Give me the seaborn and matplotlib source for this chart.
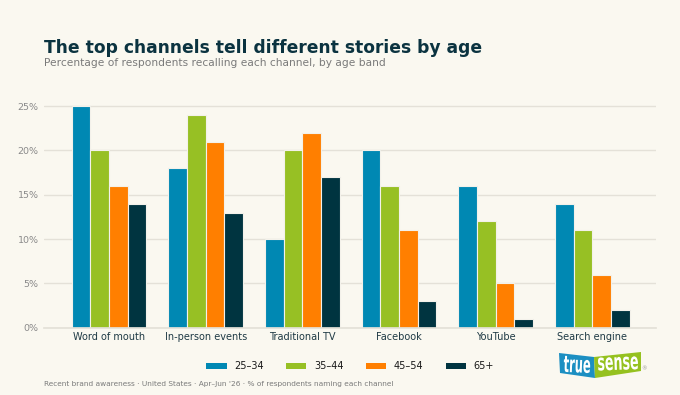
import matplotlib
matplotlib.use("Agg")
import matplotlib.pyplot as plt
import seaborn as sns
import pandas as pd
from matplotlib.patches import Polygon, Patch, PathPatch
from matplotlib.textpath import TextPath
from matplotlib.font_manager import FontProperties
from matplotlib.transforms import Affine2D

channels = ["Word of mouth", "In-person events", "Traditional TV", "Facebook", "YouTube", "Search engine"]
age_bands = ["25–34", "35–44", "45–54", "65+"]
v_25_34 = [25, 18, 10, 20, 16, 14]
v_35_44 = [20, 24, 20, 16, 12, 11]
v_45_54 = [16, 21, 22, 11, 5, 6]
v_65_plus = [14, 13, 17, 3, 1, 2]
colors = ["#0088b3", "#97c024", "#ff7f00", "#003440"]
y_ticks = [0, 5, 10, 15, 20, 25]

rows = []
for band, vals in zip(age_bands, [v_25_34, v_35_44, v_45_54, v_65_plus]):
    for ch, v in zip(channels, vals):
        rows.append({"channel": ch, "age": band, "value": v})
df = pd.DataFrame(rows)

bg = "#faf8f0"
sns.set_theme(style="white")
plt.rcParams["font.family"] = ["DejaVu Sans"]

fig = plt.figure(figsize=(6.8, 3.95), dpi=100, facecolor=bg)
ax = fig.add_axes([0.065, 0.17, 0.9, 0.584])
ax.set_facecolor(bg)

sns.barplot(data=df, x="channel", y="value", hue="age", order=channels,
            hue_order=age_bands, palette=colors, width=0.77, ax=ax,
            legend=False, edgecolor="#f3f1ea", linewidth=0.8, saturation=1)

ax.set_ylim(0, 26)
ax.set_xlim(-0.67, 5.66)
ax.set_yticks(y_ticks)
ax.set_yticklabels([f"{t}%" for t in y_ticks], color="#8a8a8a", fontsize=6.8)
ax.tick_params(axis="x", colors="#1f3a45", labelsize=7, length=0, pad=3)
ax.tick_params(axis="y", length=0, pad=4)
ax.grid(axis="y", color="#e4e1d8", linewidth=1)
ax.set_axisbelow(True)
for s in ["top", "right", "left"]:
    ax.spines[s].set_visible(False)
ax.spines["bottom"].set_color("#e4e1d8")
ax.set_xlabel("")
ax.set_ylabel("")

fig.text(0.065, 0.878, "The top channels tell different stories by age",
         fontsize=12.3, fontweight="bold", color="#0b3340", va="center")
fig.text(0.065, 0.84, "Percentage of respondents recalling each channel, by age band",
         fontsize=7.7, color="#7a7a7a", va="center")
fig.text(0.065, 0.027, "Recent brand awareness · United States · Apr–Jun '26 · % of respondents naming each channel",
         fontsize=5.3, color="#7a7a7a", va="center")

handles = [Patch(facecolor=c, edgecolor="none") for c in colors]
fig.legend(handles, age_bands, loc="center", bbox_to_anchor=(0.515, 0.073), ncol=4,
           frameon=False, fontsize=7, handlelength=2.06, handleheight=0.6,
           columnspacing=2.3, handletextpad=0.8, labelcolor="#1a1a1a")

# logo
W, H = 680, 395
def fp(pts):
    return [(x / W, 1 - y / H) for x, y in pts]
fig.add_artist(Polygon(fp([(559, 353), (594, 357), (595, 378), (560, 373)]),
                       closed=True, transform=fig.transFigure, facecolor="#1c8fc2", edgecolor="none"))
fig.add_artist(Polygon(fp([(594, 357), (641, 352), (641, 371), (595, 378)]),
                       closed=True, transform=fig.transFigure, facecolor="#95c11f", edgecolor="none"))

def logo_text(s, cx, cy, sx, rot):
    tp = TextPath((0, 0), s, size=23, prop=FontProperties(family="DejaVu Sans", weight="bold"))
    ext = tp.get_extents()
    mx = (ext.x0 + ext.x1) / 2
    my = (ext.y0 + ext.y1) / 2
    tr = Affine2D().translate(-mx, -my).scale(sx, 1).rotate_deg(rot).translate(cx, H - cy)
    fig.add_artist(PathPatch(tp, transform=tr, facecolor="white", edgecolor="none"))

logo_text("true", 577, 364.5, 0.5, -2)
logo_text("sense", 618, 363.5, 0.55, 2)
fig.text(644 / W, 1 - 369 / H, "®", fontsize=4, color="#999999", ha="center", va="center")

fig.savefig("out.png", dpi=100, facecolor=bg)
